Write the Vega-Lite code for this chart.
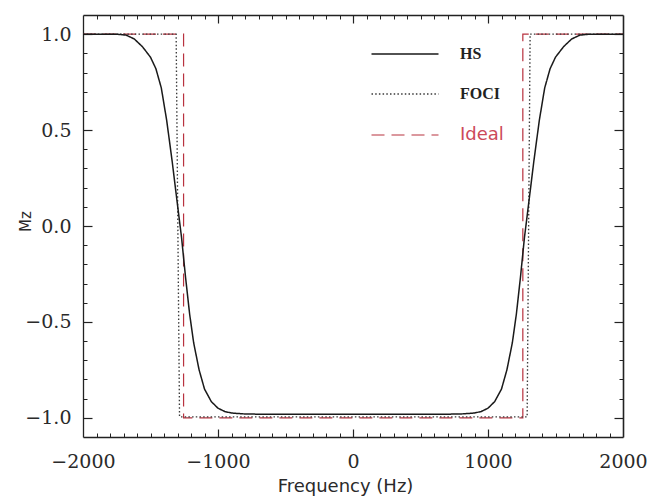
{
  "$schema": "https://vega.github.io/schema/vega-lite/v6.json",
  "autosize": "none",
  "width": 540,
  "height": 422,
  "padding": {"left": 83, "top": 15, "right": 28, "bottom": 60},
  "background": "white",
  "config": {"view": {"stroke": null}, "axis": {"domainColor": "#222", "tickColor": "#222", "grid": false, "labelFlush": false, "labelOverlap": false}},
  "datasets": {
    "curves": [
      {"series": "Ideal", "i": 1, "f": -2000, "mz": 1.0},
      {"series": "Ideal", "i": 2, "f": -1255, "mz": 1.0},
      {"series": "Ideal", "i": 3, "f": -1255, "mz": -1.0},
      {"series": "Ideal", "i": 4, "f": 1258, "mz": -1.0},
      {"series": "Ideal", "i": 5, "f": 1258, "mz": 1.0},
      {"series": "Ideal", "i": 6, "f": 2000, "mz": 1.0},
      {"series": "FOCI", "i": 1, "f": -2000, "mz": 1.0},
      {"series": "FOCI", "i": 2, "f": -1310, "mz": 1.0},
      {"series": "FOCI", "i": 3, "f": -1285, "mz": -0.995},
      {"series": "FOCI", "i": 4, "f": 1290, "mz": -0.995},
      {"series": "FOCI", "i": 5, "f": 1312, "mz": 1.0},
      {"series": "FOCI", "i": 6, "f": 2000, "mz": 1.0},
      {"series": "HS", "i": 1, "f": -2000, "mz": 1.0},
      {"series": "HS", "i": 2, "f": -1750, "mz": 1.0},
      {"series": "HS", "i": 3, "f": -1680, "mz": 0.995},
      {"series": "HS", "i": 4, "f": -1620, "mz": 0.975},
      {"series": "HS", "i": 5, "f": -1560, "mz": 0.935},
      {"series": "HS", "i": 6, "f": -1500, "mz": 0.88},
      {"series": "HS", "i": 7, "f": -1460, "mz": 0.82},
      {"series": "HS", "i": 8, "f": -1420, "mz": 0.72},
      {"series": "HS", "i": 9, "f": -1380, "mz": 0.55},
      {"series": "HS", "i": 10, "f": -1340, "mz": 0.34},
      {"series": "HS", "i": 11, "f": -1300, "mz": 0.11},
      {"series": "HS", "i": 12, "f": -1270, "mz": -0.06},
      {"series": "HS", "i": 13, "f": -1240, "mz": -0.27},
      {"series": "HS", "i": 14, "f": -1210, "mz": -0.46},
      {"series": "HS", "i": 15, "f": -1180, "mz": -0.61},
      {"series": "HS", "i": 16, "f": -1140, "mz": -0.75},
      {"series": "HS", "i": 17, "f": -1100, "mz": -0.85},
      {"series": "HS", "i": 18, "f": -1050, "mz": -0.915},
      {"series": "HS", "i": 19, "f": -1000, "mz": -0.95},
      {"series": "HS", "i": 20, "f": -950, "mz": -0.967},
      {"series": "HS", "i": 21, "f": -900, "mz": -0.975},
      {"series": "HS", "i": 22, "f": -800, "mz": -0.98},
      {"series": "HS", "i": 23, "f": -600, "mz": -0.982},
      {"series": "HS", "i": 24, "f": 0, "mz": -0.982},
      {"series": "HS", "i": 25, "f": 600, "mz": -0.982},
      {"series": "HS", "i": 26, "f": 800, "mz": -0.98},
      {"series": "HS", "i": 27, "f": 900, "mz": -0.975},
      {"series": "HS", "i": 28, "f": 950, "mz": -0.967},
      {"series": "HS", "i": 29, "f": 1000, "mz": -0.95},
      {"series": "HS", "i": 30, "f": 1050, "mz": -0.915},
      {"series": "HS", "i": 31, "f": 1100, "mz": -0.85},
      {"series": "HS", "i": 32, "f": 1140, "mz": -0.75},
      {"series": "HS", "i": 33, "f": 1180, "mz": -0.61},
      {"series": "HS", "i": 34, "f": 1210, "mz": -0.46},
      {"series": "HS", "i": 35, "f": 1240, "mz": -0.27},
      {"series": "HS", "i": 36, "f": 1270, "mz": -0.06},
      {"series": "HS", "i": 37, "f": 1300, "mz": 0.11},
      {"series": "HS", "i": 38, "f": 1340, "mz": 0.34},
      {"series": "HS", "i": 39, "f": 1380, "mz": 0.55},
      {"series": "HS", "i": 40, "f": 1420, "mz": 0.72},
      {"series": "HS", "i": 41, "f": 1460, "mz": 0.82},
      {"series": "HS", "i": 42, "f": 1500, "mz": 0.88},
      {"series": "HS", "i": 43, "f": 1560, "mz": 0.935},
      {"series": "HS", "i": 44, "f": 1620, "mz": 0.975},
      {"series": "HS", "i": 45, "f": 1680, "mz": 0.995},
      {"series": "HS", "i": 46, "f": 1750, "mz": 1.0},
      {"series": "HS", "i": 47, "f": 2000, "mz": 1.0}
    ]
  },
  "data": {"name": "curves"},
  "encoding": {
    "order": {"field": "i", "type": "quantitative"}
  },
  "layer": [
    {
      "mark": {"type": "line", "opacity": 0},
      "encoding": {
        "x": {"field": "f", "type": "quantitative", "scale": {"domain": [-2000, 2000], "nice": false, "zero": false},
          "axis": {"orient": "top", "labels": false, "ticks": false, "title": null, "domainWidth": 1.3}},
        "y": {"field": "mz", "type": "quantitative", "scale": {"domain": [-1.1, 1.1], "nice": false, "zero": false},
          "axis": {"orient": "right", "labels": false, "ticks": false, "title": null, "domainWidth": 1.6}},
        "detail": {"field": "series"}
      }
    },
    {
      "mark": {"type": "line", "opacity": 0},
      "encoding": {
        "x": {"field": "f", "type": "quantitative",
          "axis": {"orient": "bottom", "offset": -4, "tickSize": 4, "domain": false, "labels": false, "title": null,
            "values": [-1900,-1800,-1700,-1600,-1500,-1400,-1300,-1200,-1100,-900,-800,-700,-600,-500,-400,-300,-200,-100,100,200,300,400,500,600,700,800,900,1100,1200,1300,1400,1500,1600,1700,1800,1900]}},
        "y": {"field": "mz", "type": "quantitative",
          "axis": {"orient": "left", "offset": -4, "tickSize": 4, "domain": false, "labels": false, "title": null,
            "values": [-0.9,-0.8,-0.7,-0.6,-0.4,-0.3,-0.2,-0.1,0.1,0.2,0.3,0.4,0.6,0.7,0.8,0.9]}},
        "detail": {"field": "series"}
      }
    },
    {
      "mark": {"type": "line", "opacity": 0},
      "encoding": {
        "x": {"field": "f", "type": "quantitative",
          "axis": {"orient": "top", "offset": -4, "tickSize": 4, "domain": false, "labels": false, "title": null,
            "values": [-1900,-1800,-1700,-1600,-1500,-1400,-1300,-1200,-1100,-900,-800,-700,-600,-500,-400,-300,-200,-100,100,200,300,400,500,600,700,800,900,1100,1200,1300,1400,1500,1600,1700,1800,1900]}},
        "y": {"field": "mz", "type": "quantitative",
          "axis": {"orient": "right", "offset": -4, "tickSize": 4, "domain": false, "labels": false, "title": null,
            "values": [-0.9,-0.8,-0.7,-0.6,-0.4,-0.3,-0.2,-0.1,0.1,0.2,0.3,0.4,0.6,0.7,0.8,0.9]}},
        "detail": {"field": "series"}
      }
    },
    {
      "mark": {"type": "line", "opacity": 0},
      "encoding": {
        "x": {"field": "f", "type": "quantitative",
          "axis": {"orient": "bottom", "offset": -8, "tickSize": 8, "tickWidth": 1.2, "domain": false, "labels": false, "title": null,
            "values": [-1000, 0, 1000]}},
        "y": {"field": "mz", "type": "quantitative",
          "axis": {"orient": "left", "offset": -9, "tickSize": 9, "tickWidth": 1.2, "domain": false, "labels": false, "title": null,
            "values": [-1.0, -0.5, 0, 0.5, 1.0]}},
        "detail": {"field": "series"}
      }
    },
    {
      "mark": {"type": "line", "opacity": 0},
      "encoding": {
        "x": {"field": "f", "type": "quantitative",
          "axis": {"orient": "top", "offset": -8, "tickSize": 8, "tickWidth": 1.2, "domain": false, "labels": false, "title": null,
            "values": [-1000, 0, 1000]}},
        "y": {"field": "mz", "type": "quantitative",
          "axis": {"orient": "right", "offset": -9, "tickSize": 9, "tickWidth": 1.2, "domain": false, "labels": false, "title": null,
            "values": [-1.0, -0.5, 0, 0.5, 1.0]}},
        "detail": {"field": "series"}
      }
    },
    {
      "mark": {"type": "line"},
      "encoding": {
        "x": {"field": "f", "type": "quantitative",
          "axis": {"orient": "bottom", "values": [-2000,-1000,0,1000,2000], "format": "d", "ticks": false, "domain": true, "domainWidth": 1.3, "labelPadding": 15,
            "labelFont": "DejaVu Serif", "labelFontSize": 19, "labelColor": "#2a2a2a",
            "title": "Frequency  (Hz)", "titleFont": "DejaVu Sans", "titleFontSize": 18, "titleFontWeight": "normal", "titleColor": "#2a2a2a",
            "titleX": 262, "titleY": 49, "titleBaseline": "middle", "titleAlign": "center"}},
        "y": {"field": "mz", "type": "quantitative",
          "axis": {"orient": "left", "values": [-1.0,-0.5,0,0.5,1.0], "format": ".1f", "ticks": false, "domain": true, "domainWidth": 1.3, "labelPadding": 12,
            "labelFont": "DejaVu Serif", "labelFontSize": 19, "labelColor": "#2a2a2a",
            "title": "Mz", "titleFont": "DejaVu Sans", "titleFontSize": 15, "titleFontWeight": "normal", "titleColor": "#2a2a2a",
            "titleX": -58, "titleY": 206, "titleBaseline": "middle", "titleAlign": "center", "titleAngle": 270}},
        "color": {"field": "series", "type": "nominal",
          "scale": {"domain": ["HS", "FOCI", "Ideal"], "range": ["#1a1a1a", "#3a3a3a", "#b8323f"]},
          "legend": {
            "orient": "none", "legendX": 314, "legendY": 31, "title": null,
            "symbolType": "M-6.7,0H6.7", "symbolSize": 100, "symbolStrokeWidth": 1.6,
            "labelOffset": 47, "rowPadding": 24, "labelFontSize": 16,
            "encode": {
              "labels": {"update": {
                "fill": {"signal": "datum.label === 'Ideal' ? '#cc4a5a' : '#222'"},
                "font": {"signal": "datum.label === 'Ideal' ? 'DejaVu Sans' : 'Liberation Serif'"},
                "fontWeight": {"signal": "datum.label === 'Ideal' ? 'normal' : 'bold'"},
                "fontSize": {"signal": "datum.label === 'Ideal' ? 18 : 16"}
              }}
            }
          }},
        "strokeDash": {"field": "series", "type": "nominal",
          "scale": {"domain": ["HS", "FOCI", "Ideal"], "range": [[1, 0], [1.5, 2.2], [13, 7]]}},
        "strokeWidth": {"field": "series", "type": "nominal",
          "scale": {"domain": ["HS", "FOCI", "Ideal"], "range": [1.5, 1.2, 1.8]}, "legend": null}
      }
    }
  ],
  "resolve": {"axis": {"x": "independent", "y": "independent"}}
}
